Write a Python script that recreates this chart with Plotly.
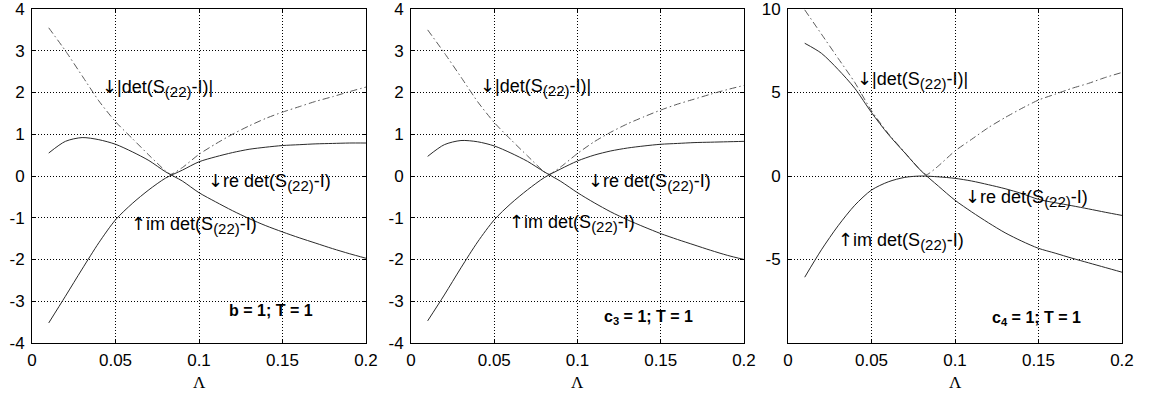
import plotly.graph_objects as go

# ---------------- data ----------------
lam = [0.01, 0.02, 0.03, 0.04, 0.05, 0.06, 0.07, 0.08, 0.09, 0.10,
       0.11, 0.12, 0.13, 0.14, 0.15, 0.16, 0.17, 0.18, 0.19, 0.20]
lam_abs = [0.01, 0.02, 0.03, 0.04, 0.05, 0.06, 0.07, 0.08, 0.083, 0.09, 0.10,
           0.11, 0.12, 0.13, 0.14, 0.15, 0.16, 0.17, 0.18, 0.19, 0.20]

# panel 1: b = 1; T = 1
re1 = [0.55, 0.83, 0.92, 0.87, 0.76, 0.58, 0.37, 0.10, -0.12, -0.40,
       -0.62, -0.83, -1.02, -1.19, -1.34, -1.48, -1.61, -1.74, -1.86, -1.97]
im1 = [-3.52, -2.88, -2.23, -1.60, -1.05, -0.66, -0.33, -0.05, 0.14, 0.34,
       0.46, 0.56, 0.64, 0.69, 0.73, 0.75, 0.77, 0.78, 0.79, 0.79]
ab1 = [3.55, 3.00, 2.40, 1.80, 1.30, 0.90, 0.50, 0.12, 0.04, 0.20, 0.52,
       0.77, 1.00, 1.20, 1.38, 1.53, 1.66, 1.79, 1.90, 2.02, 2.13]

# panel 2: c3 = 1; T = 1
re2 = [0.47, 0.75, 0.85, 0.82, 0.72, 0.55, 0.35, 0.10, -0.13, -0.40,
       -0.64, -0.86, -1.05, -1.22, -1.38, -1.52, -1.65, -1.78, -1.90, -2.00]
im2 = [-3.47, -2.85, -2.20, -1.58, -1.05, -0.66, -0.33, -0.04, 0.17, 0.36,
       0.50, 0.60, 0.67, 0.72, 0.76, 0.78, 0.80, 0.81, 0.82, 0.83]
ab2 = [3.50, 2.95, 2.37, 1.78, 1.28, 0.87, 0.48, 0.10, 0.04, 0.22, 0.54,
       0.82, 1.05, 1.25, 1.42, 1.58, 1.72, 1.84, 1.96, 2.07, 2.17]

# panel 3: c4 = 1; T = 1
re3 = [7.95, 7.35, 6.38, 5.25, 3.80, 2.50, 1.38, 0.28, -0.60, -1.45,
       -2.15, -2.80, -3.40, -3.90, -4.33, -4.62, -4.92, -5.20, -5.48, -5.76]
im3 = [-6.06, -4.42, -2.98, -1.75, -0.84, -0.35, -0.08, 0.00, -0.05, -0.14,
       -0.30, -0.52, -0.76, -1.05, -1.40, -1.60, -1.78, -1.97, -2.17, -2.36]
ab3 = [9.95, 8.50, 7.05, 5.60, 3.90, 2.55, 1.40, 0.28, 0.08, 0.60, 1.50,
       2.20, 2.90, 3.50, 4.05, 4.55, 4.90, 5.25, 5.55, 5.90, 6.20]

x_ticks = [0, 0.05, 0.1, 0.15, 0.2]
x_ticktext = ["0", "0.05", "0.1", "0.15", "0.2"]
y_ticks_12 = [-4, -3, -2, -1, 0, 1, 2, 3, 4]
y_ticktext_12 = ["-4", "-3", "-2", "-1", "0", "1", "2", "3", "4"]
y_ticks_3 = [-5, 0, 5, 10]
y_ticktext_3 = ["-5", "0", "5", "10"]

panel_labels = ["<b>b = 1; T = 1</b>",
                "<b>c<sub>3</sub> = 1; T = 1</b>",
                "<b>c<sub>4</sub> = 1; T = 1</b>"]

# ---------------- figure ----------------
W, H = 1165, 397
xdoms = [(32 / W, 366 / W), (411 / W, 744 / W), (788 / W, 1122 / W)]
ydom = (1 - 343 / H, 1 - 9 / H)

fig = go.Figure()

series = [(re1, im1, ab1), (re2, im2, ab2), (re3, im3, ab3)]
for i, (re, im, ab) in enumerate(series):
    xa = "x" if i == 0 else f"x{i+1}"
    ya = "y" if i == 0 else f"y{i+1}"
    fig.add_trace(go.Scatter(x=lam_abs, y=ab, mode="lines", xaxis=xa, yaxis=ya,
                             line=dict(color="#5a5a5a", width=1, dash="7px,3px,1.5px,3px",
                                       shape="spline", smoothing=0.6),
                             showlegend=False, hoverinfo="skip"))
    fig.add_trace(go.Scatter(x=lam, y=re, mode="lines", xaxis=xa, yaxis=ya,
                             line=dict(color="#2a2a2a", width=1, shape="spline", smoothing=0.8),
                             showlegend=False, hoverinfo="skip"))
    fig.add_trace(go.Scatter(x=lam, y=im, mode="lines", xaxis=xa, yaxis=ya,
                             line=dict(color="#2a2a2a", width=1, shape="spline", smoothing=0.8),
                             showlegend=False, hoverinfo="skip"))

tickfont = dict(family="Liberation Sans, Arial, sans-serif", size=17, color="black")
axis_common = dict(showline=True, linecolor="black", linewidth=1, mirror="allticks",
                   ticks="inside", ticklen=4, tickcolor="black",
                   showgrid=True, gridcolor="black", gridwidth=1, griddash="1px,2px",
                   zeroline=False, tickfont=tickfont, automargin=False, fixedrange=True,
                   ticklabeloverflow="allow")

layout = dict(width=W, height=H, margin=dict(l=0, r=0, t=0, b=0),
              paper_bgcolor="white", plot_bgcolor="white", showlegend=False)

for i in range(3):
    xk = "xaxis" if i == 0 else f"xaxis{i+1}"
    yk = "yaxis" if i == 0 else f"yaxis{i+1}"
    ya = "y" if i == 0 else f"y{i+1}"
    xa = "x" if i == 0 else f"x{i+1}"
    layout[xk] = dict(axis_common, domain=list(xdoms[i]), range=[-0.00001, 0.20001], anchor=ya,
                      tickvals=x_ticks, ticktext=x_ticktext, ticklabelstandoff=2)
    if i < 2:
        layout[yk] = dict(axis_common, domain=list(ydom), range=[-4.0005, 4.0005], anchor=xa,
                          tickvals=y_ticks_12, ticktext=y_ticktext_12, ticklabelstandoff=3)
    else:
        layout[yk] = dict(axis_common, domain=list(ydom), range=[-10, 10.001], anchor=xa,
                          tickvals=y_ticks_3, ticktext=y_ticktext_3, ticklabelstandoff=3)

fig.update_layout(**layout)

afont = dict(family="Liberation Sans, Arial, sans-serif", size=18, color="black")
bfont = dict(family="Liberation Sans, Arial, sans-serif", size=16, color="black")

# annotation positions (data coords): (det, re, im, label)
ann_pos = [
    [(0.0405, 2.12), (0.1040, -0.15), (0.0578, -1.17), (0.1170, -3.23)],
    [(0.0405, 2.14), (0.1050, -0.15), (0.0575, -1.13), (0.1145, -3.40)],
    [(0.0400, 5.74), (0.1050, -1.32), (0.0285, -3.87), (0.1210, -8.52)],
]
AR = "<span style='font-family:DejaVu Sans'>%s</span>"
SUB = "<sub><span style='font-size:15px'>(22)</span></sub>"
texts = [AR % "↓" + "|det(S" + SUB + "-I)|",
         AR % "↓" + "re det(S" + SUB + "-I)",
         AR % "↑" + "im det(S" + SUB + "-I)"]
for i in range(3):
    xa = "x" if i == 0 else f"x{i+1}"
    ya = "y" if i == 0 else f"y{i+1}"
    for k, t in enumerate(texts):
        x, y = ann_pos[i][k]
        fig.add_annotation(x=x, y=y, xref=xa, yref=ya, text=t, showarrow=False,
                           xanchor="left", yanchor="middle", font=afont)
    x, y = ann_pos[i][3]
    fig.add_annotation(x=x, y=y, xref=xa, yref=ya, text=panel_labels[i], showarrow=False,
                       xanchor="left", yanchor="middle", font=bfont)
    # axis label Λ
    fig.add_annotation(x=(xdoms[i][0] + xdoms[i][1]) / 2, y=1 - 382 / H, xref="paper",
                       yref="paper", text="Λ", showarrow=False, xanchor="center",
                       yanchor="middle",
                       font=dict(family="Liberation Serif, Times New Roman, serif",
                                 size=17, color="black"))

fig.write_html("out.html", config={"displayModeBar": False},
               post_script="document.body.style.margin='0';")
